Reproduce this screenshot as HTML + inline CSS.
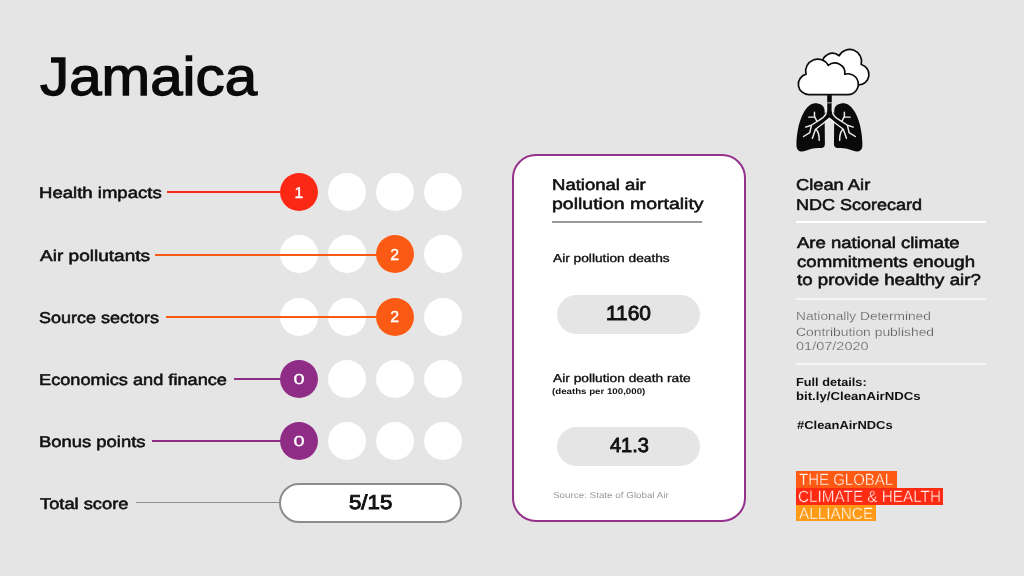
<!DOCTYPE html><html><head><meta charset="utf-8"><title>Jamaica</title><style>
html,body{margin:0;padding:0}body{width:1024px;height:576px;background:#e5e5e5;position:relative;overflow:hidden;font-family:"Liberation Sans",sans-serif}
.t{position:absolute;white-space:nowrap;line-height:1;transform-origin:0 0;margin:0;padding:0;text-rendering:geometricPrecision}
.c{position:absolute;width:38px;height:38px;border-radius:50%;background:#fff}
.l{position:absolute;height:2px}
.r{position:absolute;left:795.6px;width:190.6px;height:2px;background:#fff}
#w{position:absolute;left:0;top:0;width:1024px;height:576px;will-change:transform}
</style></head><body><div id="w">
<div class="c" style="left:279.9px;top:173.0px"></div>
<div class="c" style="left:327.8px;top:173.0px"></div>
<div class="c" style="left:375.7px;top:173.0px"></div>
<div class="c" style="left:423.6px;top:173.0px"></div>
<div class="c" style="left:279.9px;top:235.3px"></div>
<div class="c" style="left:327.8px;top:235.3px"></div>
<div class="c" style="left:375.7px;top:235.3px"></div>
<div class="c" style="left:423.6px;top:235.3px"></div>
<div class="c" style="left:279.9px;top:297.6px"></div>
<div class="c" style="left:327.8px;top:297.6px"></div>
<div class="c" style="left:375.7px;top:297.6px"></div>
<div class="c" style="left:423.6px;top:297.6px"></div>
<div class="c" style="left:279.9px;top:359.9px"></div>
<div class="c" style="left:327.8px;top:359.9px"></div>
<div class="c" style="left:375.7px;top:359.9px"></div>
<div class="c" style="left:423.6px;top:359.9px"></div>
<div class="c" style="left:279.9px;top:422.1px"></div>
<div class="c" style="left:327.8px;top:422.1px"></div>
<div class="c" style="left:375.7px;top:422.1px"></div>
<div class="c" style="left:423.6px;top:422.1px"></div>
<div class="l" style="left:166.6px;top:191.30px;width:132.3px;height:2.0px;background:#fa2814"></div>
<div class="l" style="left:155.2px;top:253.60px;width:239.5px;height:2.0px;background:#fb5a14"></div>
<div class="l" style="left:165.8px;top:315.90px;width:228.9px;height:2.0px;background:#fb5a14"></div>
<div class="l" style="left:233.6px;top:378.20px;width:65.3px;height:2.0px;background:#8e2c86"></div>
<div class="l" style="left:152.3px;top:440.40px;width:146.6px;height:2.0px;background:#8e2c86"></div>
<div class="l" style="left:135.6px;top:501.50px;width:143.9px;height:1.6px;background:#8f8f8f"></div>
<div class="c" style="left:279.9px;top:173.0px;background:#fa2814"></div>
<div class="c" style="left:375.7px;top:235.3px;background:#fb5a14"></div>
<div class="c" style="left:375.7px;top:297.6px;background:#fb5a14"></div>
<div class="c" style="left:279.9px;top:359.9px;background:#8e2c86"></div>
<div class="c" style="left:279.9px;top:422.1px;background:#8e2c86"></div>
<div style="position:absolute;left:278.9px;top:483px;width:182.9px;height:39.8px;box-sizing:border-box;border:2px solid #8c8c8c;border-radius:20px;background:#fff"></div>
<div style="position:absolute;left:511.7px;top:153.7px;width:234.7px;height:368px;box-sizing:border-box;border:2px solid #93318b;border-radius:24px;background:#fff"></div>
<div class="l" style="left:552px;top:221px;width:149.5px;background:#999"></div>
<div style="position:absolute;left:557.3px;top:294.6px;width:142.7px;height:39.3px;border-radius:20px;background:#e5e5e5"></div>
<div style="position:absolute;left:557.3px;top:427.2px;width:142.7px;height:38.6px;border-radius:20px;background:#e5e5e5"></div>
<div class="r" style="top:221.00px;opacity:1"></div>
<div class="r" style="top:298.15px;opacity:0.6"></div>
<div class="r" style="top:363.45px;opacity:0.6"></div>
<div style="position:absolute;left:796px;top:471.3px;width:100.6px;height:16.4px;background:#ff5a14"></div>
<div style="position:absolute;left:796px;top:487.6px;width:146.7px;height:17px;background:#ff2a12"></div>
<div style="position:absolute;left:796px;top:505.1px;width:80px;height:16px;background:#ff9a16"></div>
<svg style="position:absolute;left:780px;top:40px" width="110" height="120" viewBox="780 40 110 120">
<g transform="translate(794,46) scale(0.090293)" fill="#fff" stroke="#0a0a0a" stroke-width="18.5" stroke-linejoin="round">
<path transform="translate(878,-107) scale(-1,1)" d="M 163 538 A 115 115 0 0 1 133.4 311.9 A 133 133 0 0 1 379.1 215 A 112 112 0 0 1 563.2 313.1 A 115 115 0 1 1 597 538 Z"/>
<path d="M 163 538 A 115 115 0 0 1 133.4 311.9 A 133 133 0 0 1 379.1 215 A 112 112 0 0 1 563.2 313.1 A 115 115 0 1 1 597 538 Z"/>
</g>
<g transform="translate(790,94) scale(0.1041667)">
<path d="M 240 88 C 290 88 332 110 332 160 L 335 480 C 335 510 320 520 290 518 C 240 515 190 525 150 545 C 110 560 62 555 62 490 C 62 400 80 270 130 180 C 160 125 200 88 240 88 Z" fill="#0a0a0a"/>
<path d="M 517.0 88.0 C 467.0 88.0 425.0 110.0 425.0 160.0 L 422.0 480.0 C 422.0 510.0 437.0 520.0 467.0 518.0 C 517.0 515.0 567.0 525.0 607.0 545.0 C 647.0 560.0 695.0 555.0 695.0 490.0 C 695.0 400.0 677.0 270.0 627.0 180.0 C 597.0 125.0 557.0 88.0 517.0 88.0 Z" fill="#0a0a0a"/>
<rect x="357" y="10" width="44" height="190" fill="#0a0a0a"/>
<path d="M 378 185 L 250 290 M 379.0 185.0 L 507.0 290.0" stroke="#0a0a0a" stroke-width="62" fill="none"/>
<path d="M 350 85 H 408" stroke="#e5e5e5" stroke-width="8" fill="none"/>
<g stroke="#efefef" stroke-width="14" fill="none" stroke-linecap="round" stroke-linejoin="round">
<path d="M 349 98 L 349 165 C 349 200 325 222 295 242 L 205 300 L 150 318"/>
<path d="M 408.0 98.0 L 408.0 165.0 C 408.0 200.0 432.0 222.0 462.0 242.0 L 552.0 300.0 L 607.0 318.0"/>
<path d="M 205 304 L 190 370 L 130 408"/>
<path d="M 552.0 304.0 L 567.0 370.0 L 627.0 408.0"/>
<path d="M 258 262 L 235 215 L 235 175 M 233 222 L 180 222"/>
<path d="M 499.0 262.0 L 522.0 215.0 L 522.0 175.0 M 524.0 222.0 L 577.0 222.0"/>
<path d="M 378 238 L 245 338 L 215 425 M 250 338 C 270 360 282 385 280 445"/>
<path d="M 379.0 238.0 L 512.0 338.0 L 542.0 425.0 M 507.0 338.0 C 487.0 360.0 475.0 385.0 477.0 445.0"/>
</g></g></svg>
<div class="t" style="left:39.67px;top:51.00px;font-size:53.80px;color:#0a0a0a;transform:scaleX(1.0837);-webkit-text-stroke:1.30px #0a0a0a;">Jamaica</div>
<div class="t" style="left:38.58px;top:186.00px;font-size:15.60px;color:#111;transform:scaleX(1.1898);-webkit-text-stroke:0.55px #111;">Health impacts</div>
<div class="t" style="left:39.78px;top:249.00px;font-size:15.60px;color:#111;transform:scaleX(1.2207);-webkit-text-stroke:0.55px #111;">Air pollutants</div>
<div class="t" style="left:39.28px;top:311.00px;font-size:15.60px;color:#111;transform:scaleX(1.1542);-webkit-text-stroke:0.55px #111;">Source sectors</div>
<div class="t" style="left:38.61px;top:373.00px;font-size:15.60px;color:#111;transform:scaleX(1.1659);-webkit-text-stroke:0.55px #111;">Economics and finance</div>
<div class="t" style="left:38.59px;top:435.00px;font-size:15.60px;color:#111;transform:scaleX(1.1815);-webkit-text-stroke:0.55px #111;">Bonus points</div>
<div class="t" style="left:39.73px;top:497.00px;font-size:15.60px;color:#111;transform:scaleX(1.1728);-webkit-text-stroke:0.55px #111;">Total score</div>
<div class="t" style="left:552.09px;top:178.00px;font-size:15.60px;color:#111;transform:scaleX(1.1880);-webkit-text-stroke:0.55px #111;">National air</div>
<div class="t" style="left:552.45px;top:197.00px;font-size:15.60px;color:#111;transform:scaleX(1.2492);-webkit-text-stroke:0.55px #111;">pollution mortality</div>
<div class="t" style="left:553.05px;top:254.00px;font-size:11.50px;color:#111;transform:scaleX(1.1933);-webkit-text-stroke:0.35px #111;">Air pollution deaths</div>
<div class="t" style="left:605.70px;top:304.00px;font-size:20.30px;color:#111;transform:scaleX(1.0316);-webkit-text-stroke:0.90px #111;">1160</div>
<div class="t" style="left:553.05px;top:374.00px;font-size:11.50px;color:#111;transform:scaleX(1.1964);-webkit-text-stroke:0.35px #111;">Air pollution death rate</div>
<div class="t" style="left:552.27px;top:388.00px;font-size:8.20px;color:#111;transform:scaleX(1.1847);font-weight:bold;">(deaths per 100,000)</div>
<div class="t" style="left:609.65px;top:436.00px;font-size:20.30px;color:#111;transform:scaleX(0.9847);-webkit-text-stroke:0.90px #111;">41.3</div>
<div class="t" style="left:552.67px;top:491.00px;font-size:8.60px;color:#999;transform:scaleX(1.1441);">Source: State of Global Air</div>
<div class="t" style="left:796.46px;top:178.00px;font-size:15.60px;color:#111;transform:scaleX(1.1731);-webkit-text-stroke:0.55px #111;">Clean Air</div>
<div class="t" style="left:795.72px;top:198.00px;font-size:15.60px;color:#111;transform:scaleX(1.1549);-webkit-text-stroke:0.55px #111;">NDC Scorecard</div>
<div class="t" style="left:796.88px;top:236.00px;font-size:15.60px;color:#111;transform:scaleX(1.1874);-webkit-text-stroke:0.55px #111;">Are national climate</div>
<div class="t" style="left:796.60px;top:255.00px;font-size:15.60px;color:#111;transform:scaleX(1.1945);-webkit-text-stroke:0.55px #111;">commitments enough</div>
<div class="t" style="left:796.86px;top:273.00px;font-size:15.60px;color:#111;transform:scaleX(1.1979);-webkit-text-stroke:0.55px #111;">to provide healthy air?</div>
<div class="t" style="left:795.69px;top:311.00px;font-size:11.70px;color:#555;transform:scaleX(1.1730);-webkit-text-stroke:0.25px #e5e5e5;">Nationally Determined</div>
<div class="t" style="left:796.10px;top:327.00px;font-size:11.70px;color:#555;transform:scaleX(1.1871);-webkit-text-stroke:0.25px #e5e5e5;">Contribution published</div>
<div class="t" style="left:796.18px;top:341.00px;font-size:11.70px;color:#555;transform:scaleX(1.2407);-webkit-text-stroke:0.25px #e5e5e5;">01/07/2020</div>
<div class="t" style="left:796.04px;top:377.00px;font-size:11.60px;color:#111;transform:scaleX(1.0965);font-weight:bold;">Full details:</div>
<div class="t" style="left:796.10px;top:391.00px;font-size:11.60px;color:#111;transform:scaleX(1.1380);font-weight:bold;">bit.ly/CleanAirNDCs</div>
<div class="t" style="left:796.54px;top:420.00px;font-size:11.60px;color:#111;transform:scaleX(1.1160);font-weight:bold;">#CleanAirNDCs</div>
<div class="t" style="left:798.98px;top:472.00px;font-size:16.20px;color:#fff;transform:scaleX(0.9258);-webkit-text-stroke:0.40px #ff5a14;">THE GLOBAL</div>
<div class="t" style="left:797.59px;top:489.00px;font-size:16.20px;color:#fff;transform:scaleX(0.9443);-webkit-text-stroke:0.40px #ff2a12;">CLIMATE &amp; HEALTH</div>
<div class="t" style="left:798.63px;top:506.00px;font-size:16.20px;color:#fff;transform:scaleX(0.9471);-webkit-text-stroke:0.40px #ff9a16;">ALLIANCE</div>
<div class="t" style="left:278.90px;top:186.00px;width:40px;text-align:center;font-size:15.80px;color:#fff;-webkit-text-stroke:0.40px #fff;">1</div>
<div class="t" style="left:374.70px;top:248.00px;width:40px;text-align:center;font-size:15.80px;color:#fff;-webkit-text-stroke:0.40px #fff;">2</div>
<div class="t" style="left:374.70px;top:310.00px;width:40px;text-align:center;font-size:15.80px;color:#fff;-webkit-text-stroke:0.40px #fff;">2</div>
<div class="t" style="left:278.90px;top:373.00px;width:40px;text-align:center;font-size:14.30px;color:#fff;transform-origin:50% 50%;transform:scaleX(1.400);-webkit-text-stroke:0.30px #fff;">0</div>
<div class="t" style="left:278.90px;top:435.00px;width:40px;text-align:center;font-size:14.30px;color:#fff;transform-origin:50% 50%;transform:scaleX(1.400);-webkit-text-stroke:0.30px #fff;">0</div>
<div class="t" style="left:348.86px;top:493.00px;font-size:20.00px;color:#111;transform:scaleX(1.1123);-webkit-text-stroke:0.90px #111;">5/15</div>
</div></body></html>
